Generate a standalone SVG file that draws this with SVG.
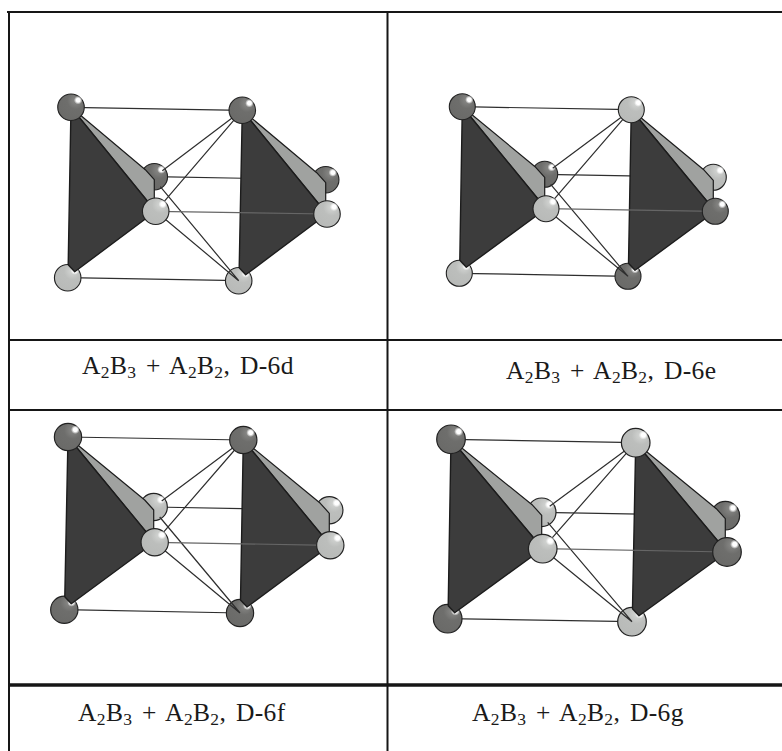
<svg xmlns="http://www.w3.org/2000/svg" width="782" height="751" viewBox="0 0 782 751">
<style>
.grid{stroke:#161616;stroke-width:2;fill:none}
.tl{stroke:#2e2e2e;stroke-width:1.2;fill:none}
.fl{stroke:#666;stroke-width:1.2;fill:none}
.gray{fill:#a0a2a0;stroke:#1c1c1c;stroke-width:1.2;stroke-linejoin:round}
.dark{fill:#3c3c3c;stroke:#1c1c1c;stroke-width:1.4;stroke-linejoin:round}
.cap{font-family:"Liberation Serif","Times New Roman",serif;font-size:25.5px;fill:#1a1a1a;letter-spacing:.35px;word-spacing:3px}
.sub{font-size:17.5px}
</style>
<defs>
<radialGradient id="gd" cx="0.68" cy="0.25" r="0.8"><stop offset="0" stop-color="#8a8a88"/><stop offset="0.4" stop-color="#6e6e6c"/><stop offset="1" stop-color="#6a6a68"/></radialGradient>
<radialGradient id="gl" cx="0.68" cy="0.25" r="0.8"><stop offset="0" stop-color="#d4d6d4"/><stop offset="0.4" stop-color="#bcbebc"/><stop offset="1" stop-color="#b8bab8"/></radialGradient>
<radialGradient id="gh"><stop offset="0.45" stop-color="#fff"/><stop offset="1" stop-color="#fff" stop-opacity="0"/></radialGradient>
<g id="d"><circle r="13" fill="url(#gd)" stroke="#222" stroke-width="1.1"/><ellipse cx="7" cy="-7" rx="4.2" ry="4.2" fill="url(#gh)"/></g>
<g id="l"><circle r="13" fill="url(#gl)" stroke="#222" stroke-width="1.1"/><ellipse cx="7" cy="-7" rx="4.2" ry="4.2" fill="url(#gh)"/></g>
</defs>
<rect width="782" height="751" fill="#fff"/>
<g id="table">
<path class="grid" d="M7 12H782M9 12V751M387.5 12V751M9 340H782M9 410H782"/>
<path class="grid" style="stroke-width:3.7" d="M9 685H782"/>
</g>

<g id="panel-d6d">
<g id="connectors-d6d-back"><path class="tl" d="M71 107.3L242.3 110.3M67.7 277.7L238.7 280.7M154.3 176.7L325.7 179.7"/></g>
<use href="#d" transform="translate(154.3 176.7) scale(1.02)"/><use href="#d" transform="translate(325.7 179.7) scale(1.02)"/>
<use href="#l" transform="translate(67.7 277.7) scale(1.02)"/><use href="#l" transform="translate(238.7 280.7) scale(1.02)"/>
<g id="connectors-d6d"><path class="tl" d="M242.3 110.3L162.3 170.7M242.3 110.3L155.7 211.3M160.3 186.7L238.7 280.7M155.7 211.3L238.7 280.7"/></g>
<polygon class="gray" points="71,107.3 145.3,169.7 154.3,179.7 154.3,199.7 155.7,211.3"/>
<polygon class="dark" points="71,107.3 155.7,211.3 74.7,271.7 68.2,264.7"/>
<polygon class="gray" points="242.3,110.3 316.7,172.7 325.7,182.7 325.7,202.7 327,214"/>
<polygon class="dark" points="242.3,110.3 327,214 245.7,274.7 239.2,267.7"/>
<path class="fl" d="M155.7 211.3L327 214"/>
<use href="#d" transform="translate(71 107.3) scale(1.02)"/><use href="#d" transform="translate(242.3 110.3) scale(1.02)"/>
<use href="#l" transform="translate(155.7 211.3) scale(1.02)"/><use href="#l" transform="translate(327 214) scale(1.02)"/>
</g>

<g id="panel-d6e">
<g id="connectors-d6e-back"><path class="tl" d="M462.3 106.7L631.3 109.7M459.3 273.3L628 276.3M544.7 174.3L713.3 177.3"/></g>
<use href="#d" transform="translate(544.7 174.3)"/><use href="#l" transform="translate(713.3 177.3)"/>
<use href="#l" transform="translate(459.3 273.3)"/><use href="#d" transform="translate(628 276.3)"/>
<g id="connectors-d6e"><path class="tl" d="M631.3 109.7L552.7 168.3M631.3 109.7L546 208.7M550.7 184.3L628 276.3M546 208.7L628 276.3"/></g>
<polygon class="gray" points="462.3,106.7 535.7,167.3 544.7,177.3 544.7,197.3 546,208.7"/>
<polygon class="dark" points="462.3,106.7 546,208.7 466.3,267.3 459.8,260.3"/>
<polygon class="gray" points="631.3,109.7 704.3,170.3 713.3,180.3 713.3,200.3 715.3,211.3"/>
<polygon class="dark" points="631.3,109.7 715.3,211.3 635,270.3 628.5,263.3"/>
<path class="fl" d="M546 208.7L715.3 211.3"/>
<use href="#d" transform="translate(462.3 106.7)"/><use href="#l" transform="translate(631.3 109.7)"/>
<use href="#l" transform="translate(546 208.7)"/><use href="#d" transform="translate(715.3 211.3)"/>
</g>

<g id="panel-d6f">
<g id="connectors-d6f-back"><path class="tl" d="M68 437L243.3 440M64.3 609.7L240 613M153.7 507L329.3 510.3"/></g>
<use href="#l" transform="translate(153.7 507) scale(1.05)"/><use href="#l" transform="translate(329.3 510.3) scale(1.05)"/>
<use href="#d" transform="translate(64.3 609.7) scale(1.05)"/><use href="#d" transform="translate(240 613) scale(1.05)"/>
<g id="connectors-d6f"><path class="tl" d="M243.3 440L161.7 501M243.3 440L154.7 542.3M159.7 517L240 613M154.7 542.3L240 613"/></g>
<polygon class="gray" points="68,437 144.7,500 153.7,510 153.7,530 154.7,542.3"/>
<polygon class="dark" points="68,437 154.7,542.3 71.3,603.7 64.8,596.7"/>
<polygon class="gray" points="243.3,440 320.3,503.3 329.3,513.3 329.3,533.3 330.3,545.3"/>
<polygon class="dark" points="243.3,440 330.3,545.3 247,607 240.5,600"/>
<path class="fl" d="M154.7 542.3L330.3 545.3"/>
<use href="#d" transform="translate(68 437) scale(1.05)"/><use href="#d" transform="translate(243.3 440) scale(1.05)"/>
<use href="#l" transform="translate(154.7 542.3) scale(1.05)"/><use href="#l" transform="translate(330.3 545.3) scale(1.05)"/>
</g>

<g id="panel-d6g">
<g id="connectors-d6g-back"><path class="tl" d="M451 439.3L635.7 442.7M447.7 618.7L632 621.7M541.7 512.3L725.3 515.7"/></g>
<use href="#l" transform="translate(541.7 512.3) scale(1.1)"/><use href="#d" transform="translate(725.3 515.7) scale(1.1)"/>
<use href="#d" transform="translate(447.7 618.7) scale(1.1)"/><use href="#l" transform="translate(632 621.7) scale(1.1)"/>
<g id="connectors-d6g"><path class="tl" d="M635.7 442.7L549.7 506.3M635.7 442.7L542.7 548.7M547.7 522.3L632 621.7M542.7 548.7L632 621.7"/></g>
<polygon class="gray" points="451,439.3 532.7,505.3 541.7,515.3 541.7,535.3 542.7,548.7"/>
<polygon class="dark" points="451,439.3 542.7,548.7 454.7,612.7 448.2,605.7"/>
<polygon class="gray" points="635.7,442.7 716.3,508.7 725.3,518.7 725.3,538.7 727,552"/>
<polygon class="dark" points="635.7,442.7 727,552 639,615.7 632.5,608.7"/>
<path class="fl" d="M542.7 548.7L727 552"/>
<use href="#d" transform="translate(451 439.3) scale(1.1)"/><use href="#l" transform="translate(635.7 442.7) scale(1.1)"/>
<use href="#l" transform="translate(542.7 548.7) scale(1.1)"/><use href="#d" transform="translate(727 552) scale(1.1)"/>
</g>

<g id="captions">
<text class="cap" x="82" y="374">A<tspan class="sub" dy="4">2</tspan><tspan dy="-4">B</tspan><tspan class="sub" dy="4">3</tspan><tspan dy="-4"> + A</tspan><tspan class="sub" dy="4">2</tspan><tspan dy="-4">B</tspan><tspan class="sub" dy="4">2</tspan><tspan dy="-4">, D-6d</tspan></text>
<text class="cap" x="506" y="379">A<tspan class="sub" dy="4">2</tspan><tspan dy="-4">B</tspan><tspan class="sub" dy="4">3</tspan><tspan dy="-4"> + A</tspan><tspan class="sub" dy="4">2</tspan><tspan dy="-4">B</tspan><tspan class="sub" dy="4">2</tspan><tspan dy="-4">, D-6e</tspan></text>
<text class="cap" x="78" y="721">A<tspan class="sub" dy="4">2</tspan><tspan dy="-4">B</tspan><tspan class="sub" dy="4">3</tspan><tspan dy="-4"> + A</tspan><tspan class="sub" dy="4">2</tspan><tspan dy="-4">B</tspan><tspan class="sub" dy="4">2</tspan><tspan dy="-4">, D-6f</tspan></text>
<text class="cap" x="472" y="721">A<tspan class="sub" dy="4">2</tspan><tspan dy="-4">B</tspan><tspan class="sub" dy="4">3</tspan><tspan dy="-4"> + A</tspan><tspan class="sub" dy="4">2</tspan><tspan dy="-4">B</tspan><tspan class="sub" dy="4">2</tspan><tspan dy="-4">, D-6g</tspan></text>
</g>
</svg>
